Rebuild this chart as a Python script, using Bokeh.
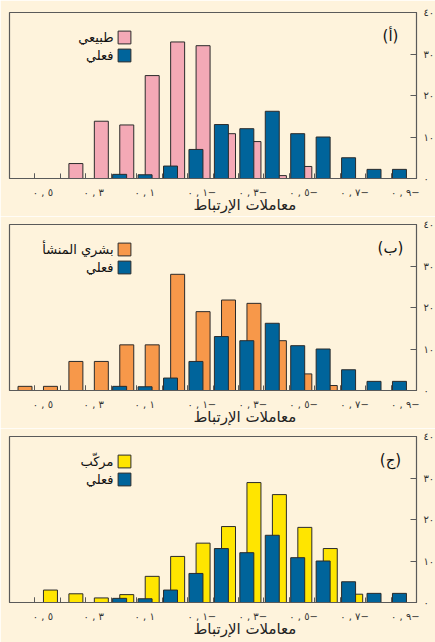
from bokeh.plotting import figure
from bokeh.models import (Range1d, LinearAxis, FixedTicker, Legend, LegendItem,
                          Label, Title, ColumnDataSource)
from bokeh.layouts import column
from bokeh.embed import file_html
from bokeh.resources import INLINE
from bokeh.core.properties import value

# Upper edge of each 0.1-wide correlation bin; the axis runs from +0.6 (left) to -1.0 (right)
actual_bins = [0.2, 0.1, 0.0, -0.1, -0.2, -0.3, -0.4, -0.5, -0.6, -0.7, -0.8, -0.9]
actual_pct = [1.0, 0.9, 3.0, 7.0, 13.0, 12.0, 16.2, 10.8, 10.0, 5.0, 2.2, 2.2]

natural_bins = [0.4, 0.3, 0.2, 0.1, 0.0, -0.1, -0.2, -0.3, -0.4, -0.5]
natural_pct = [3.6, 13.8, 12.9, 24.8, 32.9, 32.0, 10.8, 8.9, 0.7, 2.9]

human_bins = [0.6, 0.5, 0.4, 0.3, 0.2, 0.1, 0.0, -0.1, -0.2, -0.3, -0.4, -0.5, -0.6]
human_pct = [1.0, 1.0, 7.0, 7.0, 11.0, 11.0, 28.0, 19.0, 21.8, 21.0, 12.0, 4.0, 1.2]

combined_bins = [0.5, 0.4, 0.3, 0.2, 0.1, 0.0, -0.1, -0.2, -0.3, -0.4, -0.5, -0.6, -0.7]
combined_pct = [3.0, 2.1, 1.1, 1.9, 6.3, 11.1, 14.3, 18.3, 28.9, 26.0, 18.1, 13.0, 2.0]

panel_tags = ["(أ)", "(ب)", "(ج)"]
series_names = ["طبيعي", "بشري المنشأ", "مركّب"]
actual_name = "فعلي"
x_title = "معاملات الإرتباط"

x_tick_values = [0.5, 0.3, 0.1, -0.1, -0.3, -0.5, -0.7, -0.9]
x_tick_labels = ["٠ , ٥", "٠ , ٣", "٠ , ١", "٠ , ١−", "٠ , ٣−", "٠ , ٥−", "٠ , ٧−", "٠ , ٩−"]
x_minor_values = [0.5, 0.4, 0.3, 0.2, 0.1, 0.0, -0.1, -0.2, -0.3, -0.4, -0.5, -0.6, -0.7, -0.8, -0.9]
y_tick_values = [0, 10, 20, 30, 40]
y_tick_labels = ["٠", "١٠", "٢٠", "٣٠", "٤٠"]

BG = "#FEF3DC"
EDGE = "#2b2b2b"
FRAME = "#5a5a5a"
BLUE = "#00649B"
COLORS = ["#F4A9B6", "#F7984A", "#FFE500"]
FONT = "DejaVu Sans"

BAR_W = 0.055
OFF_ACTUAL = 0.033   # distance of the bar centre from the bin's upper edge
OFF_OTHER = 0.061


def padded(label):
    # labels start at their tick: pad the left so the centred text begins there
    pad = 9 if label.endswith("−") else 5
    return "\u00a0" * pad + "\u202d" + label + "\u202c"


def panel(i, bins, pct, top_border, bottom_border):
    p = figure(frame_width=407, frame_height=166, output_backend="svg", toolbar_location=None,
               x_range=Range1d(0.6, -1.0), y_range=Range1d(0, 40),
               min_border_left=9, min_border_right=19, min_border_top=top_border,
               min_border_bottom=bottom_border, background_fill_color=BG, border_fill_color=BG,
               outline_line_color=FRAME, outline_line_width=1.2, y_axis_location=None)
    p.grid.visible = False

    other = ColumnDataSource(dict(x=[b - OFF_OTHER for b in bins], top=pct))
    act = ColumnDataSource(dict(x=[b - OFF_ACTUAL for b in actual_bins], top=actual_pct))
    r_other = p.vbar(x="x", top="top", width=BAR_W, source=other,
                     fill_color=COLORS[i], line_color=EDGE, line_width=1)
    r_act = p.vbar(x="x", top="top", width=BAR_W, source=act,
                   fill_color=BLUE, line_color=EDGE, line_width=1)

    xa = p.xaxis[0]
    xa.ticker = FixedTicker(ticks=x_tick_values, minor_ticks=x_minor_values)
    xa.major_label_overrides = {v: padded(t) for v, t in zip(x_tick_values, x_tick_labels)}
    xa.major_tick_in = 5
    xa.major_tick_out = 0
    xa.minor_tick_in = 5
    xa.minor_tick_out = 0
    xa.major_tick_line_color = FRAME
    xa.minor_tick_line_color = FRAME
    xa.axis_line_color = FRAME
    xa.major_label_text_font = FONT
    xa.major_label_text_font_size = "10px"
    xa.major_label_text_color = "#333333"
    xa.major_label_standoff = 8

    ya = LinearAxis(ticker=FixedTicker(ticks=y_tick_values),
                    major_label_overrides={v: t for v, t in zip(y_tick_values, y_tick_labels)},
                    major_tick_in=6, major_tick_out=0, minor_tick_line_color=None,
                    axis_line_color=FRAME, major_tick_line_color=FRAME,
                    major_label_text_font=FONT, major_label_text_font_size="10px",
                    major_label_text_color="#333333", major_label_standoff=7)
    p.add_layout(ya, "right")

    # axis title tucked close under the tick labels, a little right of centre
    p.add_layout(Title(text=x_title, align="left", offset=184, vertical_align="top",
                       text_font=FONT, text_font_size="15px", text_font_style="normal",
                       text_color="#222222", standoff=-10), "below")

    legend = Legend(items=[LegendItem(label=value(""), renderers=[r_other]),
                           LegendItem(label=value(""), renderers=[r_act])],
                    location=(107, 115), padding=0, margin=0, spacing=2,
                    glyph_width=16, glyph_height=16, label_height=16, label_width=1,
                    label_standoff=0, label_text_font_size="1px",
                    border_line_alpha=0, background_fill_alpha=0)
    p.add_layout(legend)

    for txt, yy in ((series_names[i], 141), (actual_name, 123)):
        p.add_layout(Label(x=104, y=yy, x_units="screen", y_units="screen", text=txt,
                           text_align="right", text_baseline="middle",
                           text_font=FONT, text_font_size="13px", text_color="#111111"))
    p.add_layout(Label(x=381, y=143, x_units="screen", y_units="screen", text=panel_tags[i],
                       text_align="center", text_baseline="middle",
                       text_font=FONT, text_font_size="15px", text_color="#111111"))
    return p


p = column(panel(0, natural_bins, natural_pct, 12, 38),
           panel(1, human_bins, human_pct, 8, 38),
           panel(2, combined_bins, combined_pct, 8, 40))

open("out.html", "w").write(file_html(p, INLINE))
